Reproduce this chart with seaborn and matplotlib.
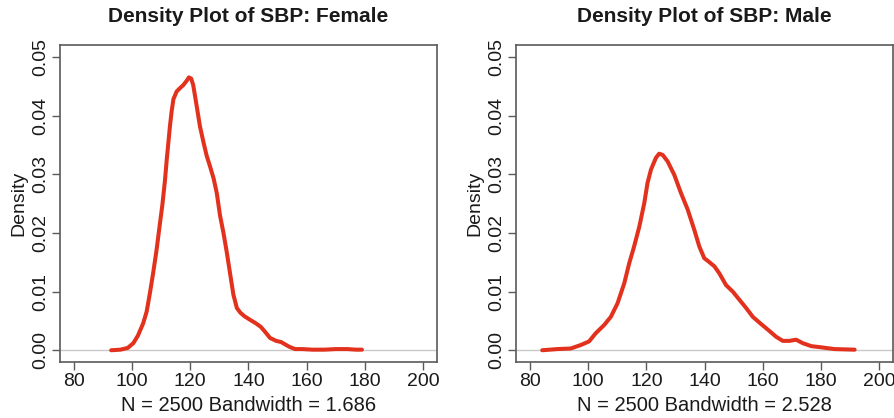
import numpy as np
import pandas as pd
import matplotlib
matplotlib.use("Agg")
import matplotlib.pyplot as plt
import seaborn as sns

# Kernel density estimates of systolic blood pressure (SBP), by sex
female_sbp = [92.8, 96.0, 98.5, 100.4, 102.0, 103.8, 105.0, 106.1, 107.3, 108.4,
              109.4, 110.4, 111.3, 111.9, 112.5, 113.0, 113.6, 114.2, 115.3, 116.5,
              117.6, 118.7, 119.5, 120.3, 121.0, 122.2, 123.3, 124.5, 125.6, 126.8,
              128.0, 129.1, 130.2, 131.4, 132.5, 133.7, 134.8, 136.0, 137.2, 138.6,
              140.5, 142.5, 144.2, 145.6, 147.4, 149.5, 151.2, 152.6, 154.0, 156.0,
              158.5, 162.0, 166.0, 170.0, 174.0, 177.0, 179.0]
female_density = [0.0000, 0.0001, 0.0004, 0.0012, 0.0025, 0.0046, 0.0066, 0.0097, 0.0134, 0.0171,
                  0.0210, 0.0248, 0.0290, 0.0325, 0.0356, 0.0382, 0.0408, 0.0428, 0.0441, 0.0447,
                  0.0452, 0.0459, 0.0465, 0.0463, 0.0452, 0.0416, 0.0382, 0.0355, 0.0332, 0.0313,
                  0.0293, 0.0268, 0.0230, 0.0200, 0.0168, 0.0130, 0.0095, 0.0072, 0.0064, 0.0058,
                  0.0052, 0.0046, 0.0040, 0.0032, 0.0021, 0.0016, 0.0014, 0.0010, 0.0006, 0.0002,
                  0.0002, 0.0001, 0.0001, 0.0002, 0.0002, 0.0001, 0.0001]

male_sbp = [84.2, 89.4, 94.0, 97.5, 100.3, 102.6, 105.5, 107.8, 110.1, 112.4,
            114.1, 115.8, 117.6, 119.3, 120.4, 121.6, 123.3, 124.4, 125.6, 127.3,
            129.6, 131.9, 134.2, 136.5, 138.2, 139.9, 141.7, 143.4, 145.1, 147.4,
            149.7, 152.0, 154.3, 156.6, 158.9, 161.8, 164.6, 166.9, 169.2, 171.5,
            173.8, 176.7, 180.1, 184.7, 191.6]
male_density = [0.0000, 0.0002, 0.0003, 0.0009, 0.0015, 0.0029, 0.0043, 0.0057, 0.0080, 0.0114,
                0.0148, 0.0177, 0.0211, 0.0251, 0.0285, 0.0308, 0.0328, 0.0335, 0.0333, 0.0322,
                0.0299, 0.0268, 0.0240, 0.0205, 0.0177, 0.0157, 0.0150, 0.0143, 0.0131, 0.0111,
                0.0100, 0.0086, 0.0072, 0.0057, 0.0047, 0.0035, 0.0023, 0.0016, 0.0016, 0.0018,
                0.0012, 0.0007, 0.0005, 0.0002, 0.0001]

panel_titles = ["Density Plot of SBP: Female", "Density Plot of SBP: Male"]
panel_xlabels = ["N = 2500 Bandwidth = 1.686", "N = 2500 Bandwidth = 2.528"]
x_ticks = [80, 100, 120, 140, 160, 180, 200]
y_ticks = [0.00, 0.01, 0.02, 0.03, 0.04, 0.05]
y_tick_labels = ["0.00", "0.01", "0.02", "0.03", "0.04", "0.05"]

sns.set_theme(style="white")
plt.rcParams["font.family"] = ["Liberation Sans", "DejaVu Sans"]

fig = plt.figure(figsize=(8.94, 4.18), dpi=100)
ax_f = fig.add_axes([0.0671, 0.134, 0.4217, 0.758])
ax_m = fig.add_axes([0.5772, 0.134, 0.4217, 0.758])

frames = [
    pd.DataFrame({"sbp": female_sbp, "density": female_density}),
    pd.DataFrame({"sbp": male_sbp, "density": male_density}),
]

line_color = "#e2311d"
frame_color = "#5a5a5a"
text_color = "#1a1a1a"

for ax, df, title, xlab in zip([ax_f, ax_m], frames, panel_titles, panel_xlabels):
    ax.axhline(0, color="#c8c8c8", lw=1.0, zorder=1)
    sns.lineplot(data=df, x="sbp", y="density", ax=ax, color=line_color,
                 lw=2.9, sort=False, solid_capstyle="round", zorder=3)
    ax.set_xlim(75.2, 204.8)
    ax.set_ylim(-0.002, 0.052)
    ax.set_xticks(x_ticks)
    ax.set_xticklabels([str(t) for t in x_ticks])
    ax.set_yticks(y_ticks)
    ax.set_yticklabels(y_tick_labels, rotation=90, va="center")
    ax.tick_params(axis="both", which="major", direction="out", length=6,
                   width=1.0, color=frame_color, labelsize=14,
                   labelcolor=text_color, pad=2, bottom=True, left=True)
    for sp in ax.spines.values():
        sp.set_color(frame_color)
        sp.set_linewidth(1.2)
        sp.set_visible(True)
    ax.set_title(title, fontsize=15, fontweight="bold", color=text_color, pad=17)
    ax.set_xlabel(xlab, fontsize=14.5, color=text_color, labelpad=4)
    ax.set_ylabel("Density", fontsize=14, color=text_color, labelpad=3)
    ax.grid(False)

fig.savefig("out.png", dpi=100, facecolor="white")
